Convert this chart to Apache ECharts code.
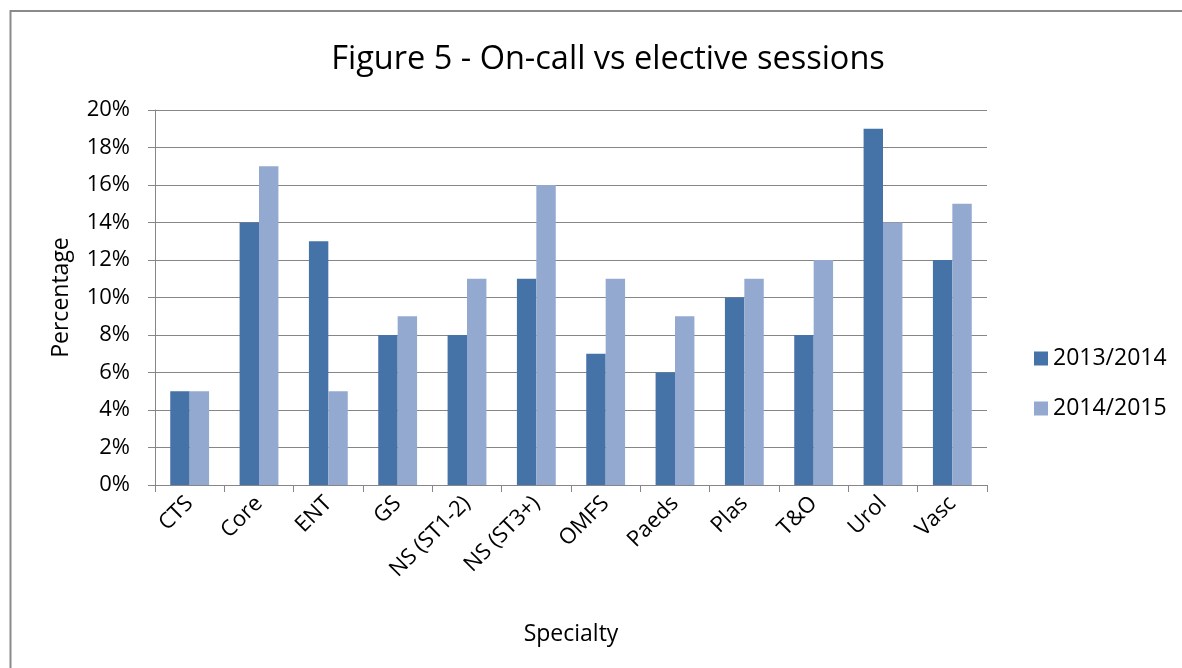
<!DOCTYPE html>
<html><head><meta charset="utf-8">
<script src="https://cdn.jsdelivr.net/npm/echarts@6/dist/echarts.min.js"></script>
<style>html,body{margin:0;padding:0;background:#fff}#c{width:1182px;height:668px}</style>
</head><body><div id="c"></div>
<script>
const categories = ['CTS','Core','ENT','GS','NS (ST1-2)','NS (ST3+)','OMFS','Paeds','Plas','T&O','Urol','Vasc'];
const s2013 = [5,14,13,8,8,11,7,6,10,8,19,12];
const s2014 = [5,17,5,9,11,16,11,9,11,12,14,15];
const yTicks = [0,2,4,6,8,10,12,14,16,18,20];
const seriesNames = ['2013/2014','2014/2015'];
const FONT = '"Open Sans", "Noto Sans", sans-serif';
const chart = echarts.init(document.getElementById('c'), null, {renderer:'canvas'});
chart.setOption({
  animation:false,
  backgroundColor:'#fff',
  graphic:[{type:'rect',shape:{x:10.5,y:11,width:1200,height:700},style:{fill:'none',stroke:'#8a8a8a',lineWidth:2}}],
  title:{text:'Figure 5 - On-call vs elective sessions',left:603,top:38,textAlign:'center',
    textStyle:{fontFamily:FONT,fontSize:32.5,fontWeight:'normal',color:'#000'}},
  legend:{orient:'vertical',left:1029,top:342,itemWidth:14,itemHeight:14,itemGap:27,icon:'rect',
    textStyle:{fontFamily:FONT,fontSize:23,lineHeight:22,color:'#000',padding:[0,0,0,0]},data:seriesNames},
  grid:{left:155,right:195,top:110,bottom:183,containLabel:false},
  xAxis:{type:'category',data:categories,
    name:'Specialty',nameLocation:'middle',nameGap:138,
    nameTextStyle:{fontFamily:FONT,fontSize:23,color:'#000'},
    axisLine:{lineStyle:{color:'#868686',width:1}},
    axisTick:{show:true,length:7,lineStyle:{color:'#868686'},alignWithLabel:false},
    axisLabel:{rotate:45,fontFamily:FONT,fontSize:22,color:'#000',margin:15,interval:0}},
  yAxis:{type:'value',min:0,max:20,interval:2,
    name:'Percentage',nameLocation:'middle',nameGap:82,nameRotate:90,
    nameTextStyle:{fontFamily:FONT,fontSize:23,color:'#000'},
    axisLine:{show:true,lineStyle:{color:'#868686'}},
    axisTick:{show:true,length:7,lineStyle:{color:'#868686'}},
    splitLine:{lineStyle:{color:'#868686',width:1}},
    axisLabel:{fontFamily:FONT,fontSize:22,color:'#000',margin:25,
      formatter:v=>yTicks.includes(v)?v+'%':''}},
  series:[
    {name:seriesNames[0],type:'bar',data:s2013,barGap:'0%',barCategoryGap:'44%',
     itemStyle:{color:'#4572A7'}},
    {name:seriesNames[1],type:'bar',data:s2014,barGap:'0%',barCategoryGap:'44%',
     itemStyle:{color:'#93A9CF'}}
  ]
});
</script></body></html>
